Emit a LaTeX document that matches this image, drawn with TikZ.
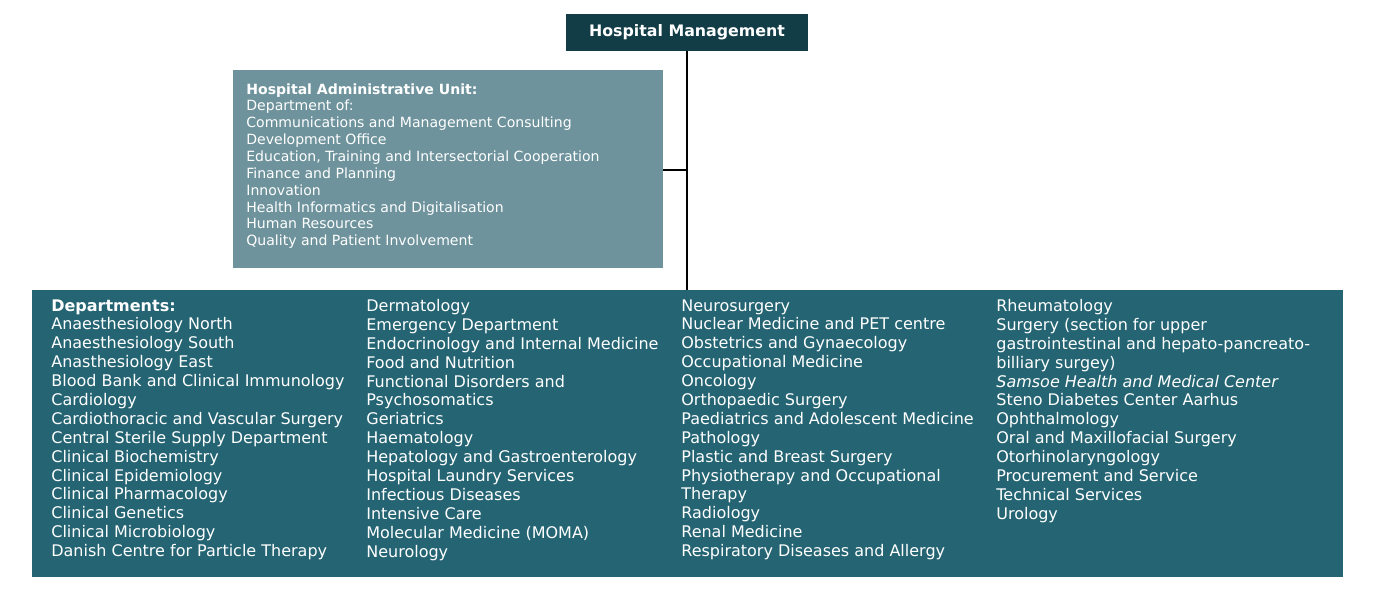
\documentclass[tikz,border=0pt]{standalone}
\usepackage{fontspec}
\setmainfont{DejaVu Sans}
\usetikzlibrary{positioning}
\definecolor{topteal}{HTML}{123D47}
\definecolor{adminteal}{HTML}{6E939C}
\definecolor{deptteal}{HTML}{246473}
\begin{document}
\begin{tikzpicture}[
				box/.style = {rectangle, inner sep=0pt, anchor=north west},
				boxtext/.style = {anchor=north west, inner sep=0pt, text=white, align=left},
				deptcol/.style = {boxtext, font=\fontsize{9.1}{10.75}\selectfont},
			]
			\useasboundingbox (0,0) rectangle (27.58,-11.84);
			\fill[topteal] (11.32,-0.28) rectangle (16.16,-1.02);
			\node[text=white, font=\bfseries\fontsize{9}{11}\selectfont](HM) at (13.74,-0.65){Hospital Management};
			\coordinate(HMb) at (13.74,-1.02);
			\fill[adminteal] (4.66,-1.40) rectangle (13.26,-5.36);
			\coordinate(AU) at (13.26,-3.40);
			\fill[deptteal] (0.64,-5.80) rectangle (26.86,-11.54);
			\coordinate(DP) at (13.74,-5.80);

			\draw[thick](HMb)--(DP);
			\draw[thick](AU)--(AU -| HMb);

			\node[boxtext, font=\fontsize{8}{9.6}\selectfont](AUtext) at (4.92,-1.66){%
				\textbf{Hospital Administrative Unit:}\\
				Department of:\\
				Communications and Management Consulting\\
				Development Office\\
				Education, Training and Intersectorial Cooperation\\
				Finance and Planning\\
				Innovation\\
				Health Informatics and Digitalisation\\
				Human Resources\\
				Quality and Patient Involvement};

			\node[deptcol](C1) at (1.02,-5.98){%
				\textbf{Departments:}\\
				Anaesthesiology North\\
				Anaesthesiology South\\
				Anasthesiology East\\
				Blood Bank and Clinical Immunology\\
				Cardiology\\
				Cardiothoracic and Vascular Surgery\\
				Central Sterile Supply Department\\
				Clinical Biochemistry\\
				Clinical Epidemiology\\
				Clinical Pharmacology\\
				Clinical Genetics\\
				Clinical Microbiology\\
				Danish Centre for Particle Therapy};
			\node[deptcol](C2) at (7.32,-5.98){%
				Dermatology\\
				Emergency Department\\
				Endocrinology and Internal Medicine\\
				Food and Nutrition\\
				Functional Disorders and\\
				Psychosomatics\\
				Geriatrics\\
				Haematology\\
				Hepatology and Gastroenterology\\
				Hospital Laundry Services\\
				Infectious Diseases\\
				Intensive Care\\
				Molecular Medicine (MOMA)\\
				Neurology};
			\node[deptcol](C3) at (13.62,-5.98){%
				Neurosurgery\\
				Nuclear Medicine and PET centre\\
				Obstetrics and Gynaecology\\
				Occupational Medicine\\
				Oncology\\
				Orthopaedic Surgery\\
				Paediatrics and Adolescent Medicine\\
				Pathology\\
				Plastic and Breast Surgery\\
				Physiotherapy and Occupational\\
				Therapy\\
				Radiology\\
				Renal Medicine\\
				Respiratory Diseases and Allergy};
			\node[deptcol](C4) at (19.92,-5.98){%
				Rheumatology\\
				Surgery (section for upper\\
				gastrointestinal and hepato-pancreato-\\
				billiary surgey)\\
				\textit{Samsoe Health and Medical Center}\\
				Steno Diabetes Center Aarhus\\
				Ophthalmology\\
				Oral and Maxillofacial Surgery\\
				Otorhinolaryngology\\
				Procurement and Service\\
				Technical Services\\
				Urology};

		\end{tikzpicture}
\end{document}
